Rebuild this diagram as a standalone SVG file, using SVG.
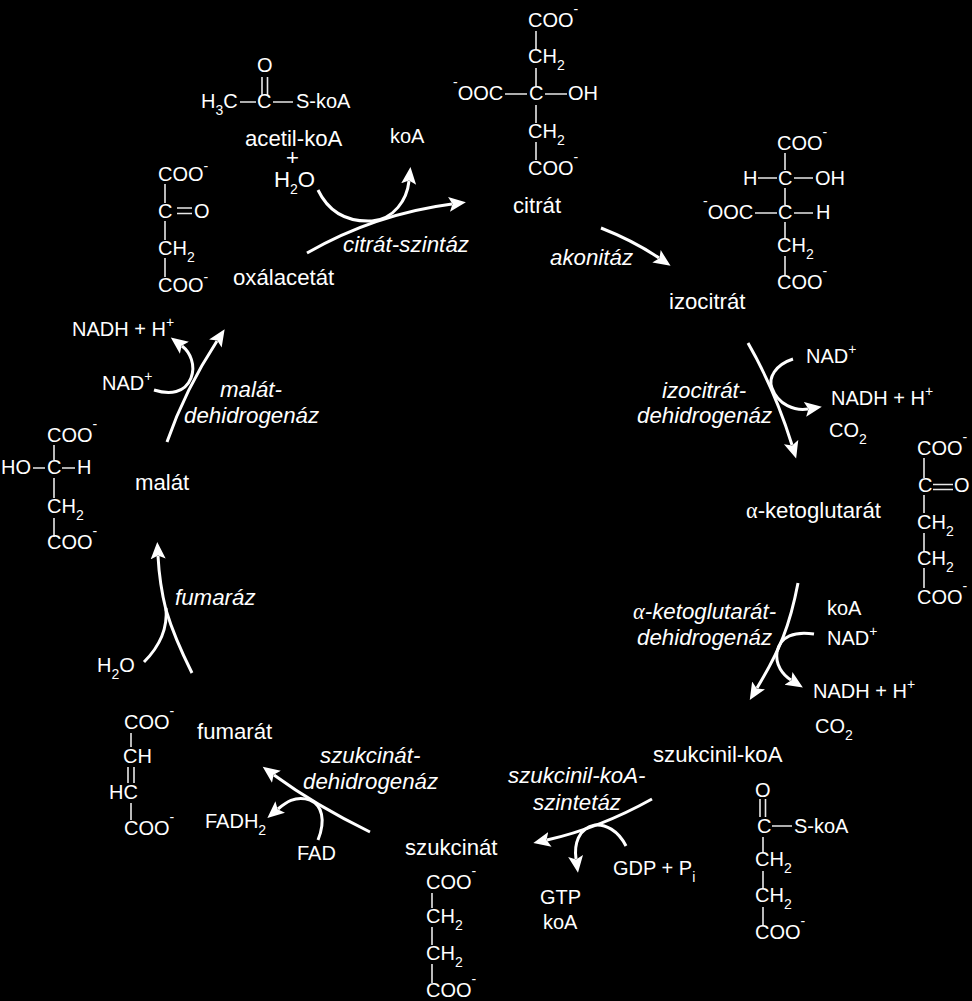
<svg xmlns="http://www.w3.org/2000/svg" width="972" height="1001" viewBox="0 0 972 1001">
<style>
text{font-family:"Liberation Sans",Arial,sans-serif;fill:#fff}
.f{font-size:20px}
.l{font-size:22.2px}
.e{font-size:22.3px;font-style:italic}
.k{font-size:20px}
.u{font-size:14px}
.g{font-family:"Liberation Serif",serif}
.b{stroke:#e8e8e8;stroke-width:1.6;fill:none}
.a{stroke:#fff;stroke-width:3;fill:none;stroke-linecap:butt}
.h{marker-end:url(#ah)}
</style>
<defs>
<marker id="ah" markerUnits="userSpaceOnUse" markerWidth="20" markerHeight="20" refX="3" refY="8" orient="auto">
<path d="M17,8 L0,0.5 L3.5,8 L0,15.5 Z" fill="#fff"/>
</marker>
</defs>
<rect width="972" height="1001" fill="#000"/>

<g id="connectors">
<path class="a h" d="M307 253 Q375 214 452 204"/>
<path class="a h" d="M318 190 C330 215 350 222 372 221 C394 219 407 200 409 181"/>
<path class="a h" d="M601 228 Q634 241 659 258"/>
<path class="a h" d="M748 343 Q775 390 792 445"/>
<path class="a h" d="M793 359 C775 365 768 378 772 388 C778 405 795 411 808 409"/>
<path class="a h" d="M798 583 C790 625 780 650 757 688"/>
<path class="a h" d="M814 634 C795 631 780 636 777 652 C775 665 783 675 791 680"/>
<path class="a h" d="M652 799 Q600 828 547 840"/>
<path class="a h" d="M626 846 C618 830 605 824 595 825 C578 828 574 845 576 859"/>
<path class="a h" d="M370 832 Q315 805 274 775"/>
<path class="a h" d="M318 840 C326 820 322 805 310 800 C295 795 285 803 278 809"/>
<path class="a h" d="M192 673 C178 645 172 630 166 610 C161 590 159 575 158 556"/>
<path class="a" d="M144 662 C158 648 168 630 166 608"/>
<path class="a h" d="M167 442 Q185 390 217 341"/>
<path class="a h" d="M154 390 C170 395 185 393 191 378 C196 365 190 352 182 346"/>
</g>

<g id="acetil-koA">
<text class="f" x="257" y="72">O</text>
<path class="b" d="M262 77V95M267.500 77V95M240 102H256M273 102H293"/>
<text class="f" x="201" y="108">H<tspan class="u" dy="7">3</tspan><tspan dy="-7">C</tspan></text>
<text class="f" x="257" y="108">C</text>
<text class="f" x="296" y="108">S-koA</text>
<text class="l" x="245" y="146">acetil-koA<tspan x="286" dy="19">+</tspan></text>
<text class="l" x="274" y="187">H<tspan class="u" dy="7">2</tspan><tspan dy="-7">O</tspan></text>
</g>
<g id="koA-1"><text class="k" x="390" y="143">koA</text></g>
<g id="enzim-citrat-szintaz"><text class="e" x="343" y="252" textLength="126" lengthAdjust="spacing">citrát-szintáz</text></g>

<g id="oxalacetat">
<text class="f" x="158" y="181">COO<tspan class="u" dy="-10">-</tspan></text>
<path class="b" d="M165 184V203M165 221V240M165 258V277M177 208H192M177 213.500H192"/>
<text class="f" x="158" y="218">C</text>
<text class="f" x="194" y="218">O</text>
<text class="f" x="158" y="255">CH<tspan class="u" dy="7">2</tspan></text>
<text class="f" x="158" y="292">COO<tspan class="u" dy="-10">-</tspan></text>
<text class="l" x="233" y="285">oxálacetát</text>
</g>

<g id="citrat">
<text class="f" x="528" y="27">COO<tspan class="u" dy="-13">-</tspan></text>
<path class="b" d="M536 31V50M536 68V87M536 105V123M536 142V160M505 94H527M545 94H567"/>
<text class="f" x="528" y="63">CH<tspan class="u" dy="7">2</tspan></text>
<text class="f" x="453" y="100"><tspan class="u" dy="-13">-</tspan><tspan dy="13">OOC</tspan></text>
<text class="f" x="529" y="100">C</text>
<text class="f" x="568" y="100">OH</text>
<text class="f" x="528" y="138">CH<tspan class="u" dy="7">2</tspan></text>
<text class="f" x="528" y="175">COO<tspan class="u" dy="-13">-</tspan></text>
<text class="l" x="513" y="213">citrát</text>
</g>
<g id="enzim-akonitaz"><text class="e" x="550" y="265">akonitáz</text></g>

<g id="izocitrat">
<text class="f" x="777" y="150">COO<tspan class="u" dy="-13">-</tspan></text>
<path class="b" d="M785 153V170M785 188V205M785 222V238M785 256V275M758 178H777M794 178H813M755 213H777M794 213H813"/>
<text class="f" x="743" y="185">H</text>
<text class="f" x="778" y="185">C</text>
<text class="f" x="815" y="185">OH</text>
<text class="f" x="703" y="219"><tspan class="u" dy="-13">-</tspan><tspan dy="13">OOC</tspan></text>
<text class="f" x="778" y="219">C</text>
<text class="f" x="816" y="219">H</text>
<text class="f" x="777" y="252">CH<tspan class="u" dy="7">2</tspan></text>
<text class="f" x="777" y="289">COO<tspan class="u" dy="-13">-</tspan></text>
<text class="l" x="669" y="309">izocitrát</text>
</g>

<g id="enzim-izocitrat-dehidrogenaz">
<text class="e" x="662" y="398">izocitrát-</text>
<text class="e" x="637" y="423">dehidrogenáz</text>
</g>
<g id="nad-1"><text class="k" x="806" y="363">NAD<tspan class="u" dy="-9">+</tspan></text></g>
<g id="nadh-1"><text class="k" x="831" y="405">NADH + H<tspan class="u" dy="-9">+</tspan></text></g>
<g id="co2-1"><text class="k" x="829" y="437">CO<tspan class="u" dy="7">2</tspan></text></g>

<g id="alfa-ketoglutarat">
<text class="l" x="746" y="518"><tspan class="g">α</tspan>-ketoglutarát</text>
<text class="f" x="917" y="455">COO<tspan class="u" dy="-13">-</tspan></text>
<path class="b" d="M924 458V478M924 495V513M924 533V552M924 568V588M933 484.500H953M933 489.500H953"/>
<text class="f" x="918" y="492">C</text>
<text class="f" x="954" y="492">O</text>
<text class="f" x="917" y="529">CH<tspan class="u" dy="7">2</tspan></text>
<text class="f" x="917" y="565">CH<tspan class="u" dy="7">2</tspan></text>
<text class="f" x="917" y="604">COO<tspan class="u" dy="-13">-</tspan></text>
</g>

<g id="enzim-ketoglutarat-dehidrogenaz">
<text class="e" x="633" y="619"><tspan class="g">α</tspan>-ketoglutarát-</text>
<text class="e" x="637" y="645">dehidrogenáz</text>
</g>
<g id="koA-2"><text class="k" x="827" y="615">koA</text></g>
<g id="nad-2"><text class="k" x="827" y="645">NAD<tspan class="u" dy="-9">+</tspan></text></g>
<g id="nadh-2"><text class="k" x="813" y="698">NADH + H<tspan class="u" dy="-9">+</tspan></text></g>
<g id="co2-2"><text class="k" x="815" y="733">CO<tspan class="u" dy="7">2</tspan></text></g>

<g id="szukcinil-koA">
<text class="l" x="653" y="762">szukcinil-koA</text>
<text class="f" x="755" y="797">O</text>
<path class="b" d="M760 799V817M765.500 799V817M772 826H792M763 837V853M763 871V888M763 907V925"/>
<text class="f" x="757" y="833">C</text>
<text class="f" x="794" y="833">S-koA</text>
<text class="f" x="755" y="866">CH<tspan class="u" dy="7">2</tspan></text>
<text class="f" x="755" y="902">CH<tspan class="u" dy="7">2</tspan></text>
<text class="f" x="755" y="939">COO<tspan class="u" dy="-13">-</tspan></text>
</g>

<g id="enzim-szukcinil-koA-szintetaz">
<text class="e" x="508" y="783">szukcinil-koA-</text>
<text class="e" x="533" y="810">szintetáz</text>
</g>
<g id="gdp"><text class="k" x="613" y="875">GDP + P<tspan class="u" dy="7">i</tspan></text></g>
<g id="gtp"><text class="k" x="540" y="904">GTP</text></g>
<g id="koA-3"><text class="k" x="543" y="929">koA</text></g>

<g id="szukcinat">
<text class="l" x="405" y="855">szukcinát</text>
<text class="f" x="426" y="889">COO<tspan class="u" dy="-13">-</tspan></text>
<path class="b" d="M432 893V908M432 927V945M432 964V983"/>
<text class="f" x="426" y="923">CH<tspan class="u" dy="7">2</tspan></text>
<text class="f" x="426" y="960">CH<tspan class="u" dy="7">2</tspan></text>
<text class="f" x="426" y="997">COO<tspan class="u" dy="-13">-</tspan></text>
</g>

<g id="enzim-szukcinat-dehidrogenaz">
<text class="e" x="320" y="763">szukcinát-</text>
<text class="e" x="303" y="789">dehidrogenáz</text>
</g>
<g id="fadh2"><text class="k" x="205" y="828">FADH<tspan class="u" dy="7">2</tspan></text></g>
<g id="fad"><text class="k" x="297" y="860">FAD</text></g>

<g id="fumarat">
<text class="f" x="124" y="729">COO<tspan class="u" dy="-13">-</tspan></text>
<path class="b" d="M131 733V747M128 767V783M134 767V783M131 803V820"/>
<text class="f" x="123" y="763">CH</text>
<text class="f" x="109" y="799">HC</text>
<text class="f" x="124" y="835">COO<tspan class="u" dy="-13">-</tspan></text>
<text class="l" x="197" y="739">fumarát</text>
</g>

<g id="enzim-fumaraz"><text class="e" x="175" y="605">fumaráz</text></g>
<g id="h2o-2"><text class="k" x="97" y="672">H<tspan class="u" dy="7">2</tspan><tspan dy="-7">O</tspan></text></g>

<g id="malat">
<text class="f" x="47" y="442">COO<tspan class="u" dy="-13">-</tspan></text>
<path class="b" d="M54 445V460M54 478V498M54 518V537M33 468H45M62 468H75"/>
<text class="f" x="1" y="474">HO</text>
<text class="f" x="47" y="474">C</text>
<text class="f" x="77" y="474">H</text>
<text class="f" x="47" y="513">CH<tspan class="u" dy="7">2</tspan></text>
<text class="f" x="47" y="549">COO<tspan class="u" dy="-13">-</tspan></text>
<text class="l" x="135" y="490">malát</text>
</g>

<g id="enzim-malat-dehidrogenaz">
<text class="e" x="220" y="397">malát-</text>
<text class="e" x="184" y="423">dehidrogenáz</text>
</g>
<g id="nad-3"><text class="k" x="102" y="390">NAD<tspan class="u" dy="-9">+</tspan></text></g>
<g id="nadh-3"><text class="k" x="72" y="336">NADH + H<tspan class="u" dy="-9">+</tspan></text></g>
</svg>
